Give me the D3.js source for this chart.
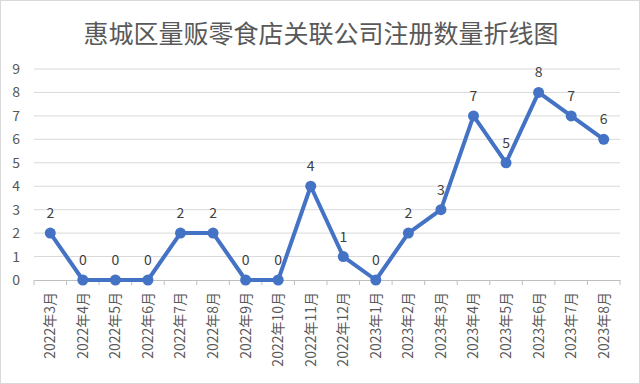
<!DOCTYPE html>
<html><head><meta charset="utf-8">
<script src="https://cdn.jsdelivr.net/npm/d3@7"></script>
<style>body{margin:0;background:#fff}svg{display:block}</style>
</head><body>
<script>
const title = "惠城区量贩零食店关联公司注册数量折线图";
const categories = ["2022年3月","2022年4月","2022年5月","2022年6月","2022年7月","2022年8月","2022年9月","2022年10月","2022年11月","2022年12月","2023年1月","2023年2月","2023年3月","2023年4月","2023年5月","2023年6月","2023年7月","2023年8月"];
const values = [2,0,0,0,2,2,0,0,4,1,0,2,3,7,5,8,7,6];
const yTicks = [0,1,2,3,4,5,6,7,8,9];

(function(){
const W=640,H=384;
const font = "'Noto Sans CJK SC','Microsoft YaHei',sans-serif";
const svg = d3.select("body").append("svg").attr("width",W).attr("height",H);
svg.append("rect").attr("x",0.5).attr("y",0.5).attr("width",W-1).attr("height",H-1)
  .attr("fill","#fff").attr("stroke","#d9d9d9");

svg.append("text").attr("x",321).attr("y",43).attr("text-anchor","middle")
  .attr("font-family",font).attr("font-size",25).attr("fill","#595959").text(title);

const mL=34,mR=620,mT=69,mB=280;
const x = d3.scaleBand().domain(categories).range([mL,mR]);
const y = d3.scaleLinear().domain([0,9]).range([mB,mT]);

svg.append("g").selectAll("line").data(yTicks.filter(d=>d>0)).join("line")
  .attr("x1",mL).attr("x2",mR).attr("y1",d=>y(d)).attr("y2",d=>y(d))
  .attr("stroke","#d9d9d9").attr("stroke-width",1);

const yAxis = svg.append("g").attr("transform",`translate(${mL},0)`)
  .call(d3.axisLeft(y).tickValues(yTicks).tickSize(0).tickPadding(14));
yAxis.select(".domain").remove();
yAxis.selectAll("text").attr("font-family",font).attr("font-size",14).attr("fill","#595959");

const xAxis = svg.append("g").attr("transform",`translate(0,${mB})`)
  .call(d3.axisBottom(x).tickSize(0));
xAxis.select(".domain").attr("stroke","#bfbfbf");
xAxis.selectAll(".tick text").attr("font-family",font).attr("font-size",14).attr("fill","#595959")
  .attr("transform","rotate(-90)").attr("text-anchor","end").attr("dx","-12px").attr("dy","0.35em").attr("y",0);
svg.append("g").selectAll("line").data(d3.range(categories.length+1)).join("line")
  .attr("x1",i=>mL+i*x.bandwidth()).attr("x2",i=>mL+i*x.bandwidth())
  .attr("y1",mB).attr("y2",mB+5).attr("stroke","#bfbfbf");

const cx = d=>x(d)+x.bandwidth()/2;
const line = d3.line().x((d,i)=>cx(categories[i])).y(d=>y(d));
svg.append("path").datum(values).attr("d",line).attr("fill","none")
  .attr("stroke","#4472C4").attr("stroke-width",4).attr("stroke-linejoin","round");
svg.append("g").selectAll("circle").data(values).join("circle")
  .attr("cx",(d,i)=>cx(categories[i])).attr("cy",d=>y(d)).attr("r",5.5).attr("fill","#4472C4");
svg.append("g").selectAll("text").data(values).join("text")
  .attr("x",(d,i)=>cx(categories[i])).attr("y",d=>y(d)-15).attr("text-anchor","middle")
  .attr("font-family",font).attr("font-size",14).attr("fill","#404040").text(d=>d);
})();
</script>
</body></html>
